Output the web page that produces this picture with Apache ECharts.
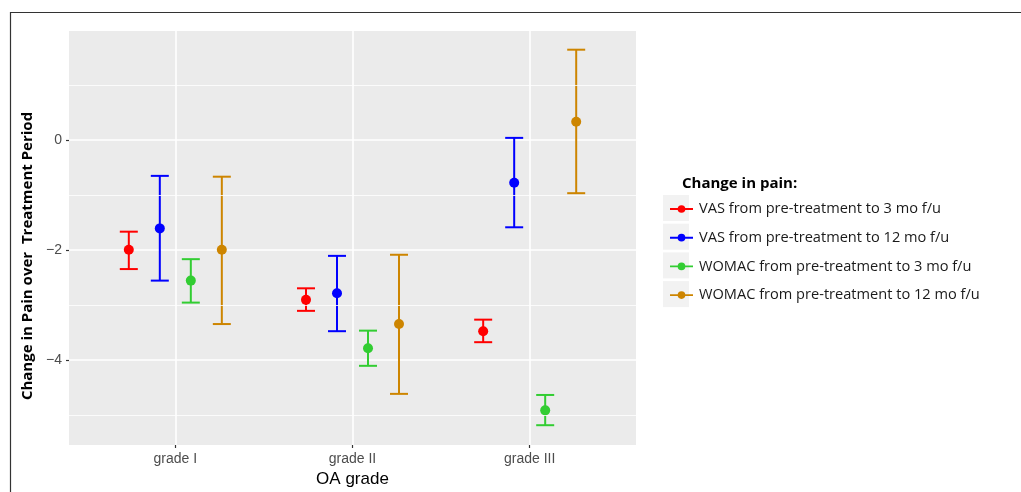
<!DOCTYPE html>
<html><head><meta charset="utf-8">
<script src="https://cdn.jsdelivr.net/npm/echarts@6/dist/echarts.min.js"></script>
<style>html,body{margin:0;padding:0;background:#fff}#c{width:1021px;height:492px}</style>
</head><body><div id="c"></div>
<script>
const categories = ['grade I', 'grade II', 'grade III'];
const seriesNames = ['VAS from pre-treatment to 3 mo f/u', 'VAS from pre-treatment to 12 mo f/u', 'WOMAC from pre-treatment to 3 mo f/u', 'WOMAC from pre-treatment to 12 mo f/u'];
const vas3Mean = [-2.0, -2.91, -3.48];
const vas3Low = [-2.35, -3.11, -3.68];
const vas3High = [-1.67, -2.70, -3.27];
const vas12Mean = [-1.61, -2.79, -0.78];
const vas12Low = [-2.56, -3.48, -1.59];
const vas12High = [-0.655, -2.11, 0.036];
const womac3Mean = [-2.56, -3.79, -4.92];
const womac3Low = [-2.96, -4.11, -5.19];
const womac3High = [-2.17, -3.47, -4.64];
const womac12Mean = [-2.0, -3.35, 0.33];
const womac12Low = [-3.35, -4.62, -0.97];
const womac12High = [-0.67, -2.09, 1.64];
const yTicks = [-4, -2, 0];
const yMinorGrid = [-5, -3, -1, 1];

const colors = ['#FF0000', '#0000FF', '#32CD32', '#CD8500'];
const means = [vas3Mean, vas12Mean, womac3Mean, womac12Mean];
const lows = [vas3Low, vas12Low, womac3Low, womac12Low];
const highs = [vas3High, vas12High, womac3High, womac12High];
const dodge = [-0.2625, -0.0875, 0.0875, 0.2625];
const capHalf = 9;

const series = [];
series.push({
  type: 'line', data: [], z: 1, silent: true,
  markLine: { silent: true, symbol: ['none', 'none'], label: { show: false },
    lineStyle: { color: '#FFFFFF', width: 0.8, type: 'solid' },
    data: yMinorGrid.map(v => ({ yAxis: v })) }
});
for (let s = 0; s < 4; s++) {
  series.push({
    type: 'custom', name: seriesNames[s] + '_err', z: 3, silent: true,
    data: categories.map((c, i) => [i + 1 + dodge[s], lows[s][i], highs[s][i]]),
    renderItem: function (params, api) {
      const lo = api.coord([api.value(0), api.value(1)]);
      const hi = api.coord([api.value(0), api.value(2)]);
      const st = { stroke: colors[s], lineWidth: 2 };
      return { type: 'group', children: [
        { type: 'line', shape: { x1: lo[0], y1: lo[1], x2: hi[0], y2: hi[1] }, style: st },
        { type: 'line', shape: { x1: lo[0] - capHalf, y1: lo[1], x2: lo[0] + capHalf, y2: lo[1] }, style: st },
        { type: 'line', shape: { x1: hi[0] - capHalf, y1: hi[1], x2: hi[0] + capHalf, y2: hi[1] }, style: st }
      ] };
    }
  });
  series.push({
    type: 'scatter', name: seriesNames[s], z: 4, symbolSize: 10,
    itemStyle: { color: colors[s], opacity: 1 },
    data: categories.map((c, i) => [i + 1 + dodge[s], means[s][i]])
  });
}

const chart = echarts.init(document.getElementById('c'), null, { renderer: 'canvas' });
chart.setOption({
  animation: false,
  backgroundColor: '#FFFFFF',
  title: [{
    text: 'Change in pain:', left: 677, top: 171,
    textStyle: { fontFamily: 'Open Sans', fontWeight: 'bold', fontSize: 15, color: '#000' }
  }],
  grid: { left: 69, right: 385, top: 31, bottom: 47, outerBoundsMode: 'none', containLabel: false, show: true, backgroundColor: '#EBEBEB', borderWidth: 0 },
  xAxis: {
    type: 'value', min: 0.4, max: 3.6,
    name: 'OA grade', nameLocation: 'middle', nameGap: 26,
    nameTextStyle: { fontFamily: 'Liberation Sans', fontSize: 17, color: '#000' },
    axisLine: { show: false, onZero: false },
    axisTick: { show: true, length: 3, customValues: [1, 2, 3], lineStyle: { color: '#333', width: 1.2 } },
    axisLabel: { customValues: [1, 2, 3], formatter: v => categories[Math.round(v) - 1], fontFamily: 'Liberation Sans', fontSize: 14, color: '#4D4D4D', margin: 7 },
    splitLine: { show: true, lineStyle: { color: '#FFFFFF', width: 1.6 } }
  },
  yAxis: {
    type: 'value', min: -5.55, max: 1.98,
    name: 'Change in Pain over  Treatment Period', nameLocation: 'middle', nameGap: 28, nameRotate: 90,
    nameTextStyle: { fontFamily: 'Open Sans', fontWeight: 'bold', fontSize: 15, color: '#000', padding: [0, 36, 0, 0] },
    axisLine: { show: false, onZero: false },
    axisTick: { show: true, length: 3, customValues: yTicks, lineStyle: { color: '#333', width: 1.2 } },
    axisLabel: { customValues: yTicks, formatter: v => String(v).replace('-', '\u2212'), fontFamily: 'Liberation Sans', fontSize: 14, color: '#4D4D4D', margin: 7 },
    splitLine: { show: true, lineStyle: { color: '#FFFFFF', width: 1.6 } }
  },
  legend: {
    data: seriesNames, orient: 'vertical', left: 665, top: 194,
    itemWidth: 23, itemHeight: 8, itemGap: 8.7,
    icon: 'path://M0,4 H24 V6 H0 Z M8,5 A4,4 0 1 1 16,5 A4,4 0 1 1 8,5 Z',
    textStyle: { fontFamily: 'Open Sans', fontSize: 14.6, color: '#1a1a1a', lineHeight: 20, padding: [0, 0, 0, 1] },
    selectedMode: false
  },
  graphic: [
    { type: 'rect', z: -10, shape: { x: 10.5, y: 12.5, width: 1100, height: 600 }, style: { fill: 'none', stroke: '#333', lineWidth: 1.2 } },
    ...[0, 1, 2, 3].map(i => ({ type: 'rect', z: -5, shape: { x: 663, y: 195 + i * 28.7, width: 26, height: 26 }, style: { fill: '#F2F2F2' } }))
  ],
  series: series
});
</script></body></html>
